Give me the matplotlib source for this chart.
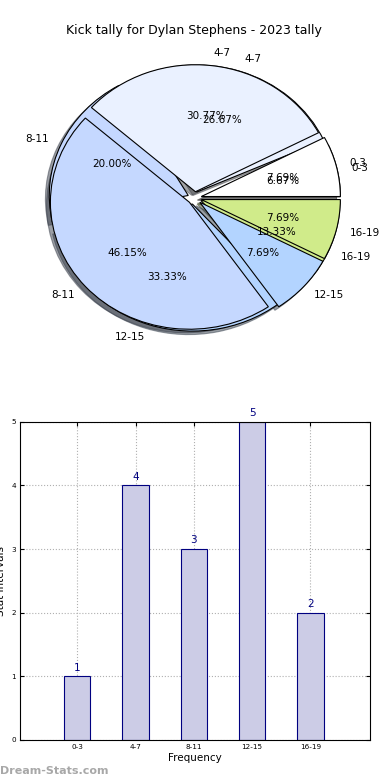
"""
Kick tally pie + bar chart for Dylan Stephens (2023).
"""
import matplotlib
matplotlib.use("Agg")
import matplotlib.pyplot as plt
import numpy as np

# --------------------------------------------------------------------------- #
# data
# --------------------------------------------------------------------------- #
title = "Kick tally for Dylan Stephens - 2023 tally"
categories = ["0-3", "4-7", "8-11", "12-15", "16-19"]
tally = [1, 4, 3, 5, 2]           # bar chart + lower pie
tally_top = [1, 4, 6, 1, 1]       # pie drawn on top
slice_colors = ["#ffffff", "#eaf1ff", "#c5d8ff", "#b3d4ff", "#d0eb8a"]

# --------------------------------------------------------------------------- #
# figure
# --------------------------------------------------------------------------- #
fig = plt.figure(figsize=(3.9, 7.8), dpi=100)

# ---- pie ------------------------------------------------------------------ #
ax_pie = fig.add_axes([0.0535, 0.5426, 0.891, 0.407])
explode = [0.05] * len(categories)
for vals in (tally, tally_top):
    ax_pie.pie(
        vals, labels=categories, colors=slice_colors, explode=explode,
        autopct="%1.2f%%", shadow=True, startangle=0,
        wedgeprops=dict(edgecolor="black", linewidth=0.8),
        textprops=dict(fontsize=7.5),
    )
ax_pie.set_aspect("auto")
ax_pie.set_xlim(-1.25, 1.25)
ax_pie.set_ylim(-1.25, 1.25)
fig.text(0.497, 0.961, title, ha="center", va="center", fontsize=9)

# ---- bars ----------------------------------------------------------------- #
ax_bar = fig.add_axes([0.0513, 0.0513, 0.8974, 0.408])
x = np.arange(len(categories))
ax_bar.bar(x - 0.02, tally, width=0.45, color=(0.8, 0.8, 0.9),
           edgecolor="navy", linewidth=0.8, zorder=2)
for xi, v in zip(x, tally):
    ax_bar.text(xi - 0.02, v + 0.06, str(v), ha="center", va="bottom",
                color="navy", fontsize=7.5)
ax_bar.set_xlim(-1, 5)
ax_bar.set_ylim(0, 5)
ax_bar.set_xticks(x - 0.02)
ax_bar.set_xticklabels(categories)
ax_bar.set_yticks(range(6))
ax_bar.tick_params(direction="in", top=True, right=True, length=3,
                   labelsize=5.2, pad=3)
ax_bar.grid(True, linestyle=":", color="#b0b0b0", linewidth=0.8, zorder=0)
ax_bar.set_axisbelow(True)
ax_bar.set_xlabel("Frequency", fontsize=7.5, labelpad=2)
ax_bar.set_ylabel("Stat Intervals", fontsize=7.5, labelpad=4)

fig.text(0.0, 0.012, "Dream-Stats.com", ha="left", va="center",
         fontsize=8, color="#a8a8a8", fontweight="bold")

fig.savefig("out.png", dpi=100)
